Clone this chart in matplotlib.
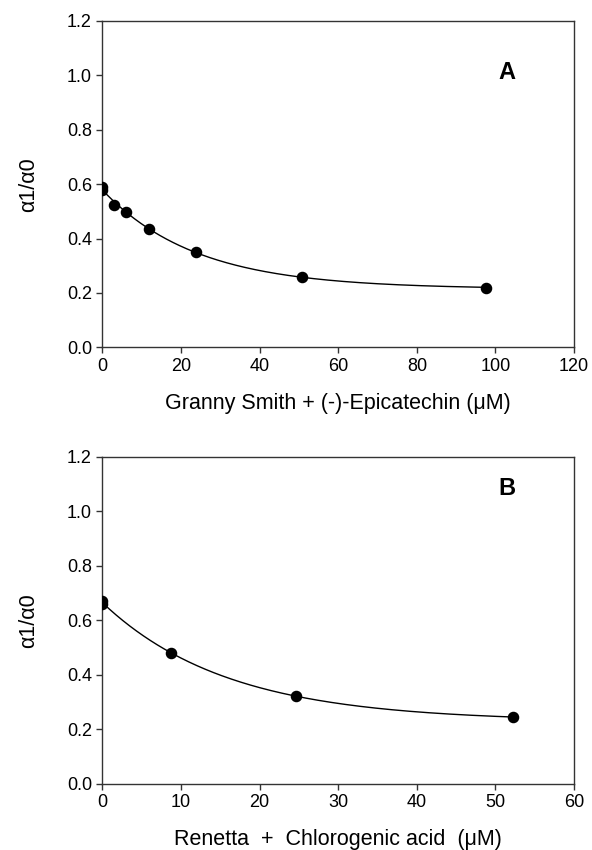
import numpy
import matplotlib
matplotlib.use("Agg")
import matplotlib.pyplot as plt

plt.rcParams['font.family'] = ['Liberation Sans', 'DejaVu Sans']

# panel A: Granny Smith + (-)-Epicatechin
conc_a = [0.0, 0.0, 3.0, 6.1, 11.9, 23.8, 50.9, 97.5]
ratio_a = [0.59, 0.578, 0.523, 0.497, 0.434, 0.352, 0.26, 0.218]

# panel B: Renetta + Chlorogenic acid
conc_b = [0.0, 0.0, 8.8, 24.6, 52.2]
ratio_b = [0.672, 0.658, 0.478, 0.323, 0.244]

y_ticks = [0.0, 0.2, 0.4, 0.6, 0.8, 1.0, 1.2]
x_ticks_a = [0, 20, 40, 60, 80, 100, 120]
x_ticks_b = [0, 10, 20, 30, 40, 50, 60]


def fit_decay(x, y):
    # y = c + a * exp(-b x), b by grid search, a and c by least squares
    x = numpy.array(x)
    y = numpy.array(y)
    best = None
    for b in numpy.linspace(0.001, 0.3, 3000):
        m = numpy.column_stack([numpy.ones_like(x), numpy.exp(-b * x)])
        coef, res, rank, sv = numpy.linalg.lstsq(m, y, rcond=None)
        err = numpy.sum((m @ coef - y) ** 2)
        if best is None or err < best[0]:
            best = (err, b, coef)
    return best[1], best[2]


def draw_panel(ax, conc, ratio, xmax, xticks, xlabel, letter, letter_pos):
    b, coef = fit_decay(conc, ratio)
    xs = numpy.linspace(0, max(conc), 300)
    ax.plot(xs, coef[0] + coef[1] * numpy.exp(-b * xs), color='black', lw=1.0, zorder=2)
    ax.plot(conc, ratio, 'o', color='black', markersize=7.3, zorder=3)
    ax.set_xlim(0, xmax)
    ax.set_ylim(0, 1.2)
    ax.set_xticks(xticks)
    ax.set_yticks(y_ticks)
    ax.set_yticklabels(['%.1f' % t for t in y_ticks])
    ax.tick_params(direction='out', length=4, width=1, labelsize=13, color='#333333')
    for s in ax.spines.values():
        s.set_color('#333333')
        s.set_linewidth(1.0)
    ax.set_xlabel(xlabel, fontsize=15.5, labelpad=13)
    ax.set_ylabel('α1/α0', fontsize=15.5, labelpad=20)
    ax.text(letter_pos[0], letter_pos[1], letter, fontsize=17, fontweight='bold',
            ha='center', va='center')


fig = plt.figure(figsize=(5.92, 8.5), dpi=100)
ax1 = fig.add_axes([0.1728, 0.5914, 0.797, 0.3839])
ax2 = fig.add_axes([0.1728, 0.078, 0.797, 0.3847])

draw_panel(ax1, conc_a, ratio_a, 120, x_ticks_a,
           'Granny Smith + (-)-Epicatechin (μM)', 'A', (103, 1.01))
draw_panel(ax2, conc_b, ratio_b, 60, x_ticks_b,
           'Renetta  +  Chlorogenic acid  (μM)', 'B', (51.5, 1.085))

fig.savefig('out.png', dpi=100)
